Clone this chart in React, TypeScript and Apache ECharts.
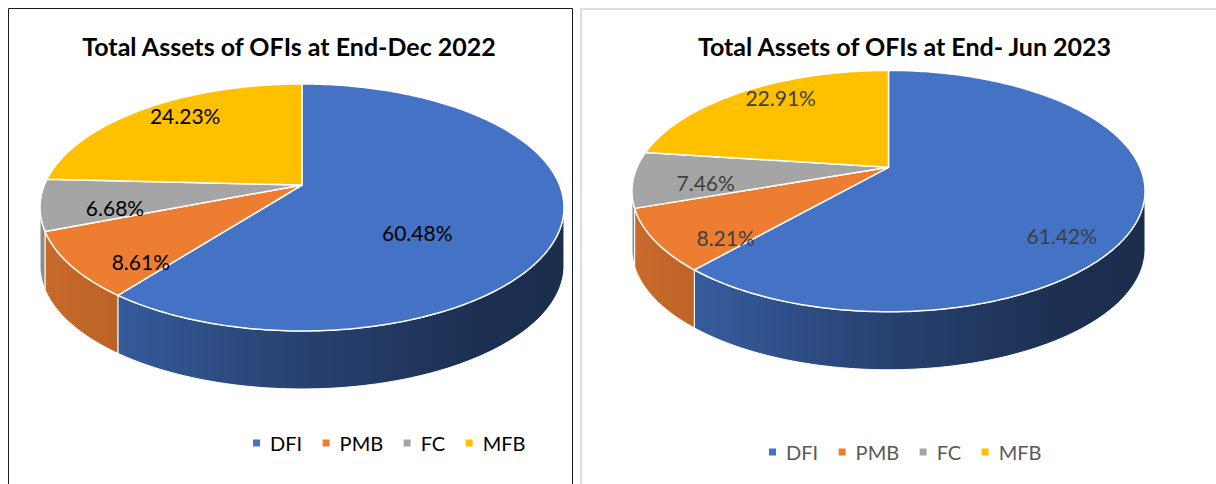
import React, { useEffect, useRef } from 'react';
import * as echarts from 'echarts';

// ---------- data ----------
const categories = ['DFI', 'PMB', 'FC', 'MFB'];
const dec2022Values = [60.48, 8.61, 6.68, 24.23];
const jun2023Values = [61.42, 8.21, 7.46, 22.91];
const chartTitles = ['Total Assets of OFIs at End-Dec 2022', 'Total Assets of OFIs at End- Jun 2023'];
const sliceColors = ['#4472C4', '#ED7D31', '#A5A5A5', '#FFC000'];

// ---------- layout / style ----------
const FONT = 'Lato, "Noto Sans", "DejaVu Sans", sans-serif';

type Layout = {
  cx: number; cy: number; R: number; Rt: number; k: number; depth: number;
  labelColor: string; legendColor: string; legendLeft: number; legendMid: number;
  titleX: number; titleY: number; labelR: number[]; labelF: number[];
};

const layouts: Layout[] = [
  {
    cx: 302, cy: 185, R: 257.6, Rt: 119.4, k: 0.182, depth: 58,
    labelColor: '#000000', legendColor: '#000000', legendLeft: 253, legendMid: 445,
    titleX: 289, titleY: 46, labelR: [0.46, 0.72, 0.72, 0.72], labelF: [2.4, 1.3, 1.3, 1.3],
  },
  {
    cx: 888.5, cy: 167.3, R: 251.5, Rt: 116, k: 0.197, depth: 58,
    labelColor: '#404040', legendColor: '#595959', legendLeft: 769, legendMid: 454,
    titleX: 904.5, titleY: 46, labelR: [0.7, 0.72, 0.72, 0.72], labelF: [2.15, 1.3, 1.3, 1.3],
  },
];

function project(L: Layout, thetaDeg: number, r: number, dz: number): number[] {
  const t = (thetaDeg * Math.PI) / 180;
  const X = r * Math.sin(t);
  const Z = -r * Math.cos(t);
  const s = 1 / (1 - L.k * Z);
  return [L.cx + L.R * X * s, L.cy + L.Rt * Z * s + dz];
}

function shade(hex: string, f: number): string {
  const n = parseInt(hex.slice(1), 16);
  const r = Math.round(((n >> 16) & 255) * f);
  const g = Math.round(((n >> 8) & 255) * f);
  const b = Math.round((n & 255) * f);
  return `rgb(${r},${g},${b})`;
}

function makeSeries(values: number[], L: Layout, key: string): any[] {
  const total = values.reduce((a, b) => a + b, 0);
  const starts: number[] = [];
  let acc = 0;
  values.forEach((v) => {
    starts.push((acc / total) * 360);
    acc += v;
  });
  const thR = (Math.acos(-L.k) * 180) / Math.PI;
  const thL = 360 - thR;
  const arc = (a: number, b: number, r: number, dz: number) => {
    const pts: number[][] = [];
    const n = Math.max(2, Math.ceil(Math.abs(b - a)));
    for (let i = 0; i <= n; i++) pts.push(project(L, a + ((b - a) * i) / n, r, dz));
    return pts;
  };
  const data = values.map((v, i) => ({ name: categories[i], value: v }));

  const walls = {
    type: 'custom',
    name: key + '-walls',
    coordinateSystem: 'none',
    silent: true,
    z: 1,
    data,
    renderItem: (params: any, api: any) => {
      const i = params.dataIndex;
      const v = api.value(0);
      const a = starts[i];
      const b = a + (v / total) * 360;
      const a2 = Math.max(a, thR);
      const b2 = Math.min(b, thL);
      if (b2 <= a2) return { type: 'group', children: [] };
      const pts = arc(a2, b2, 1, 0).concat(arc(b2, a2, 1, L.depth));
      const base = sliceColors[i];
      const x0 = L.cx - L.R * 1.02;
      const x1 = L.cx + L.R * 1.02;
      const fill = new echarts.graphic.LinearGradient(
        x0, 0, x1, 0,
        [
          { offset: 0, color: shade(base, 0.85) },
          { offset: 0.16, color: shade(base, 0.78) },
          { offset: 0.5, color: shade(base, 0.57) },
          { offset: 0.85, color: shade(base, 0.41) },
          { offset: 1, color: shade(base, 0.4) },
        ],
        true
      );
      return {
        type: 'polygon',
        shape: { points: pts },
        style: { fill, stroke: '#ffffff', lineWidth: 1 },
      };
    },
  };

  const tops = {
    type: 'custom',
    name: key + '-tops',
    coordinateSystem: 'none',
    silent: true,
    z: 2,
    data,
    renderItem: (params: any, api: any) => {
      const i = params.dataIndex;
      const v = api.value(0);
      const a = starts[i];
      const b = a + (v / total) * 360;
      const pts = [project(L, 0, 0, 0)].concat(arc(a, b, 1, 0));
      const mid = (a + b) / 2;
      const lp = project(L, mid, L.labelR[i], 0);
      const ly = L.cy + (lp[1] - L.cy) * L.labelF[i] + 4;
      return {
        type: 'group',
        children: [
          {
            type: 'polygon',
            shape: { points: pts },
            style: { fill: sliceColors[i], stroke: '#ffffff', lineWidth: 1.5, lineJoin: 'round' },
          },
          {
            type: 'text',
            x: lp[0],
            y: ly,
            style: {
              text: v.toFixed(2) + '%',
              fill: L.labelColor,
              fontSize: 21,
              fontFamily: FONT,
              align: 'center',
              verticalAlign: 'middle',
            },
          },
        ],
      };
    },
  };
  return [walls, tops];
}

export default function App() {
  const ref = useRef<HTMLDivElement>(null);
  useEffect(() => {
    if (!ref.current) return;
    const chart = echarts.init(ref.current, undefined, { renderer: 'svg' });
    const legendPie = {
      type: 'pie',
      name: 'legend-provider',
      radius: [0, 0],
      center: [-200, -200],
      silent: true,
      label: { show: false },
      labelLine: { show: false },
      data: categories.map((c, i) => ({ name: c, value: dec2022Values[i], itemStyle: { color: sliceColors[i] } })),
    };
    const option: any = {
      animation: false,
      backgroundColor: '#ffffff',
      title: layouts.map((L, i) => ({
        text: chartTitles[i],
        left: L.titleX,
        top: L.titleY,
        textAlign: 'center',
        textVerticalAlign: 'middle',
        padding: 0,
        textStyle: { fontFamily: FONT, fontSize: 25, fontWeight: 'bold', color: '#000000' },
      })),
      legend: layouts.map((L) => ({
        left: L.legendLeft,
        top: L.legendMid - 12,
        padding: 0,
        icon: 'rect',
        itemWidth: 7,
        itemHeight: 7,
        itemGap: 20.5,
        selectedMode: false,
        data: categories,
        textStyle: { fontFamily: FONT, fontSize: 20, color: L.legendColor, padding: [0, 0, 0, 5] },
      })),
      graphic: [
        {
          type: 'rect',
          silent: true,
          shape: { x: 8.5, y: 8.5, width: 564, height: 520 },
          style: { fill: 'none', stroke: '#1a1a1a', lineWidth: 1 },
        },
        {
          type: 'rect',
          silent: true,
          shape: { x: 581, y: 9, width: 700, height: 520 },
          style: { fill: 'none', stroke: '#dedede', lineWidth: 2 },
        },
      ],
      series: [
        legendPie,
        ...makeSeries(dec2022Values, layouts[0], 'dec2022'),
        ...makeSeries(jun2023Values, layouts[1], 'jun2023'),
      ],
    };
    chart.setOption(option);
    return () => chart.dispose();
  }, []);
  return (
    <div
      ref={ref}
      style={{ position: 'fixed', left: 0, top: 0, width: 1216, height: 484, background: '#ffffff' }}
    />
  );
}
